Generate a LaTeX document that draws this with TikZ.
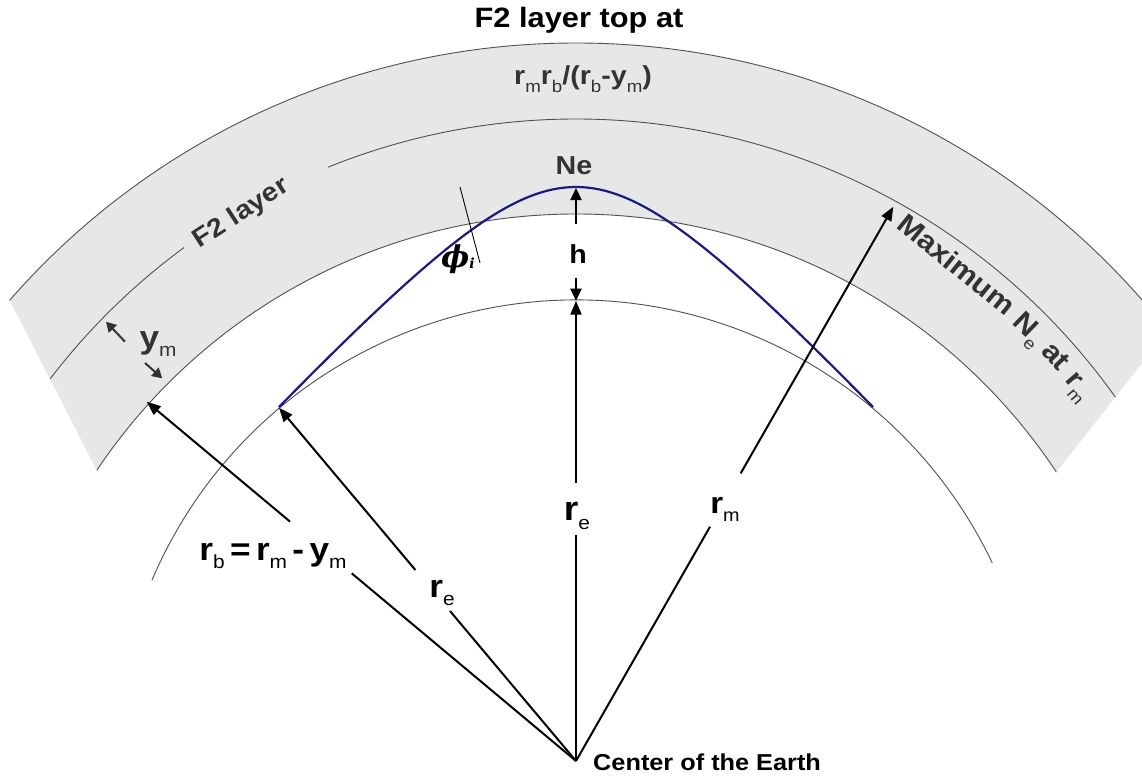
\documentclass[tikz,border=0pt]{standalone}
\usepackage{fontspec}
\setmainfont{Liberation Sans}[FakeStretch=1.1]
\newfontfamily\phifont{DejaVu Serif}
\usetikzlibrary{arrows.meta}
\definecolor{bandgray}{RGB}{231,231,231}
\definecolor{arcc}{RGB}{80,80,80}
\definecolor{txtg}{RGB}{51,51,51}
\definecolor{navyc}{RGB}{26,26,128}
\newcommand{\fs}[1]{\fontsize{#1}{#1}\selectfont}
\newcommand{\lowsub}[2]{\raisebox{-0.28em}{\fs{#1}\mdseries #2}}
\begin{document}
\begin{tikzpicture}[x=1pt,y=-1pt,
  radial/.style={line width=2pt, draw=black},
  tipped/.style={-{Triangle[length=14pt,width=11pt]}},
  htip/.style={-{Triangle[length=12pt,width=11pt]}},
  smalltip/.style={-{Triangle[length=10pt,width=11pt]}},
  thinarc/.style={line width=0.9pt, draw=arcc},
  lbl/.style={inner sep=0pt, anchor=base, font=\bfseries},
]
\fill[white] (0,0) rectangle (1142,778);
\useasboundingbox (0,0) rectangle (1142,778);

\coordinate (Oout) at (576,795);
\coordinate (Omid) at (576,790);
\coordinate (Orm) at (576,781);
\coordinate (C) at (576,761);

% F2 band
\begin{scope}
\clip (140.3,555) -- (-164.9,-40) -- (1457,-38) -- (1016,523.5) -- cycle;
\fill[bandgray, even odd rule] (Oout) circle[radius=752pt] (Omid) circle[radius=576pt];
\draw[thinarc] (Oout) circle[radius=752pt];
\draw[thinarc] (Omid) circle[radius=576pt];
\draw[thinarc] (Orm) ++(150:662pt) arc[start angle=150, end angle=126.3, radius=662pt];
\draw[thinarc] (Orm) ++(112:662pt) arc[start angle=112, end angle=20, radius=662pt];
\end{scope}

% Earth
\draw[thinarc] (C) ++(156.9:461pt) arc[start angle=156.9, end angle=25.45, radius=461pt];

% ray path
\draw[navyc, line width=2.2pt] plot[domain=279:873, samples=120, smooth]
  (\x, {187 + 110*(sqrt(((\x-576)/100)^2 + 1.452025) - 1.205)});

% local normal
\coordinate (nA) at (460,187);
\coordinate (nB) at (480,263);
\draw[line width=0.9pt] (nA) -- (nB);

% radial arrows
\coordinate (rbTip) at (146.7,401.7);
\coordinate (rbA) at (290.1,521.7);
\coordinate (rbB) at (351.7,573.3);
\draw[radial] (C) -- (rbB);
\draw[radial,tipped] (rbA) -- (rbTip);

\coordinate (reLTip) at (279,407.7);
\coordinate (reLA) at (415.4,570);
\coordinate (reLB) at (450,611);
\draw[radial] (C) -- (reLB);
\draw[radial,tipped] (reLA) -- (reLTip);

\coordinate (reTip) at (576,300.7);
\coordinate (reA) at (576,483);
\coordinate (reB) at (576,535);
\draw[radial] (C) -- (reB);
\draw[radial,tipped] (reA) -- (reTip);

\coordinate (rmTip) at (893.3,206.7);
\coordinate (rmA) at (740.7,473.3);
\coordinate (rmB) at (710,526.7);
\draw[radial] (C) -- (rmB);
\draw[radial,tipped] (rmA) -- (rmTip);

% h arrows
\coordinate (peak) at (576,188);
\coordinate (hup) at (576,224);
\coordinate (hdn) at (576,278);
\draw[radial,htip] (hup) -- (peak);
\draw[radial,htip] (hdn) -- (reTip);

% y_m arrows
\coordinate (ymA1) at (125,341.7);
\coordinate (ymT1) at (106,321.7);
\coordinate (ymA2) at (145,363);
\coordinate (ymT2) at (162.3,378.3);
\draw[line width=2pt, txtg, smalltip] (ymA1) -- (ymT1);
\draw[line width=2pt, txtg, smalltip] (ymA2) -- (ymT2);

% labels
\node[lbl] (title) at (579,28) {\fs{28}F2 layer top at};
\node[lbl, text=txtg] (formula) at (583,85) {\fs{26}r\lowsub{17}{m}r\lowsub{17}{b}/(r\lowsub{17}{b}-y\lowsub{17}{m})};
\node[lbl, text=txtg] (ne) at (574,175) {\fs{26}Ne};
\node[lbl] (h) at (578,263) {\fs{26}h};
\node[lbl] (phi) at (458,267) {{\phifont\bfseries\itshape\fs{30}ϕ}\raisebox{-0.15em}{\phifont\itshape\fs{14}i}};
\node[lbl, text=txtg] (ym) at (158,348) {\fs{32}y\lowsub{19}{m}};
\node[lbl] (rbeq) at (273,560) {\fs{32}r\lowsub{19}{b}\,=\,r\lowsub{19}{m}\,-\,y\lowsub{19}{m}};
\node[lbl] (reL) at (442,597) {\fs{32}r\lowsub{19}{e}};
\node[lbl] (reC) at (577,520) {\fs{34}r\lowsub{19}{e}};
\node[lbl] (rm) at (725,513) {\fs{30}r\lowsub{18}{m}};
\node[lbl, anchor=base west] (center) at (593,770) {\fs{23}Center of the Earth};
\node[lbl, text=txtg, rotate=33] (f2) at (245.1,219.2) {\fs{26}F2 layer};
\node[lbl, text=txtg, rotate=-39] (max1) at (950.6,272.0) {\fs{28}Maximum};
\node[lbl, text=txtg, rotate=-44] (max2) at (1023.3,334.5) {\fs{28}N\lowsub{17}{e}};
\node[lbl, text=txtg, rotate=-46.5] (max3) at (1049.6,362.5) {\fs{28}at};
\node[lbl, text=txtg, rotate=-49] (max4) at (1073.1,390.6) {\fs{28}r\lowsub{17}{m}};
\end{tikzpicture}
\end{document}
